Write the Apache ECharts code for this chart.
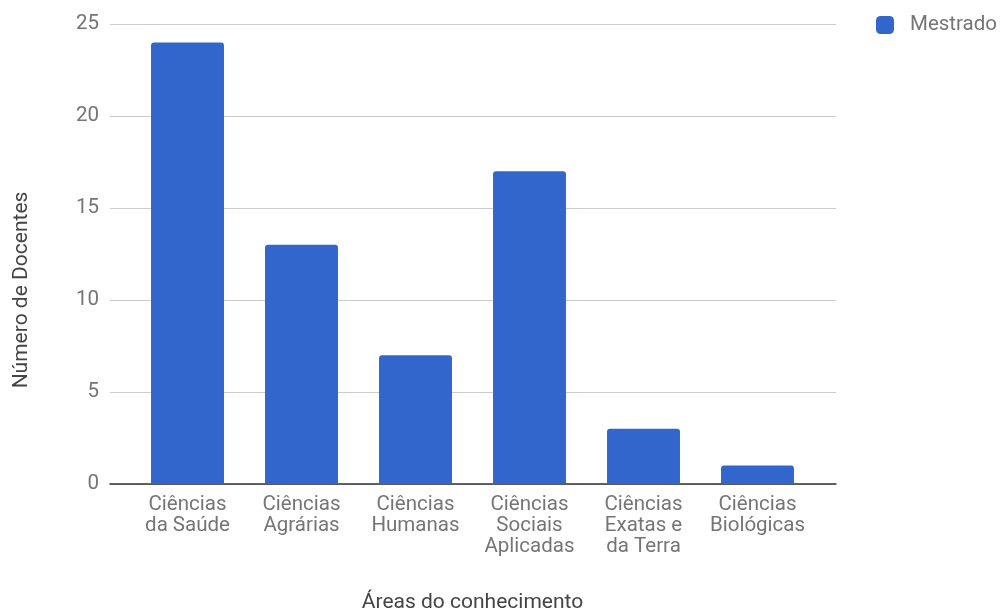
<!DOCTYPE html>
<html><head><meta charset="utf-8">
<script src="https://cdn.jsdelivr.net/npm/echarts@6/dist/echarts.min.js"></script>
<style>html,body{margin:0;padding:0;background:#fff;overflow:hidden}#c{width:1003px;height:612px}</style>
</head><body><div id="c"></div>
<script>
const categories = ["Ciências\nda Saúde","Ciências\nAgrárias","Ciências\nHumanas","Ciências\nSociais\nAplicadas","Ciências\nExatas e\nda Terra","Ciências\nBiológicas"];
const mestrado = [24, 13, 7, 17, 3, 1];
const yTicks = {min: 0, max: 25, interval: 5};
const chart = echarts.init(document.getElementById('c'), null, {width: 1003, height: 612});
const font = 'Roboto';
const labelSize = 20.5;
chart.setOption({
  animation: false,
  textStyle: {fontFamily: font},
  grid: [
    {left: 110, width: 726, top: 24, height: 460, containLabel: false, outerBoundsMode: 'none'},
    {left: 130.5, width: 684, top: 24, height: 460, containLabel: false, outerBoundsMode: 'none'}
  ],
  legend: {
    data: ['Mestrado'], right: 1, top: 9.5, orient: 'vertical',
    itemWidth: 18, itemHeight: 18,
    icon: 'roundRect',
    textStyle: {fontFamily: font, fontSize: labelSize, color: '#757575', padding: [0,0,0,11]}
  },
  xAxis: [{
    gridIndex: 0, type: 'category', data: categories,
    axisLine: {lineStyle: {color: '#333', width: 1.5}},
    axisTick: {show: false}, axisLabel: {show: false}, splitLine: {show: false}
  }, {
    gridIndex: 1, type: 'category', data: categories,
    name: 'Áreas do conhecimento', nameLocation: 'middle', nameGap: 108,
    nameTextStyle: {fontFamily: font, fontSize: 21, color: '#444'},
    axisLine: {show: false},
    axisTick: {show: false},
    axisLabel: {fontFamily: font, fontSize: labelSize, color: '#757575', lineHeight: 21, margin: 10, interval: 0}
  }],
  yAxis: [{
    gridIndex: 0, type: 'value', min: yTicks.min, max: yTicks.max, interval: yTicks.interval,
    name: 'Número de Docentes', nameLocation: 'middle', nameGap: 78,
    nameTextStyle: {fontFamily: font, fontSize: 21, color: '#444', padding: [0, 72, 0, 0]},
    axisLine: {show: false}, axisTick: {show: false},
    axisLabel: {fontFamily: font, fontSize: labelSize, color: '#757575', margin: 11},
    splitLine: {lineStyle: {color: '#cccccc', width: 1}}
  }, {
    gridIndex: 1, type: 'value', min: yTicks.min, max: yTicks.max, interval: yTicks.interval,
    axisLine: {show: false}, axisTick: {show: false}, axisLabel: {show: false}, splitLine: {show: false}
  }],
  series: [{
    name: 'Mestrado', type: 'bar', data: mestrado,
    xAxisIndex: 1, yAxisIndex: 1,
    barCategoryGap: '36%',
    itemStyle: {color: '#3366cc', borderRadius: [3,3,0,0]}
  }]
});
</script></body></html>
